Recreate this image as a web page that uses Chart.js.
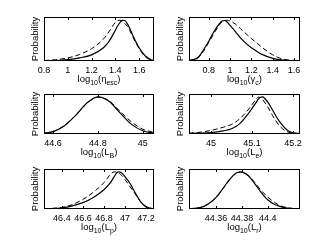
<!DOCTYPE html>
<html>
<head>
<meta charset="utf-8">
<script src="https://cdn.jsdelivr.net/npm/chart.js@4.4.1/dist/chart.umd.min.js"></script>
<style>
  html, body { margin: 0; padding: 0; background: #fff; }
  body { width: 332px; height: 250px; position: relative; overflow: hidden; }
  canvas { position: absolute; }
</style>
</head>
<body>
<canvas id="c1"></canvas>
<canvas id="c2"></canvas>
<canvas id="c3"></canvas>
<canvas id="c4"></canvas>
<canvas id="c5"></canvas>
<canvas id="c6"></canvas>
<script>
// log10(eta_esc)
const etaX      = [0.8, 0.9, 1.0, 1.1, 1.2, 1.3, 1.35, 1.4, 1.42, 1.44, 1.46, 1.48, 1.5, 1.52, 1.55, 1.6, 1.65, 1.7, 1.725];
const etaSolid  = [0.005, 0.01, 0.03, 0.07, 0.14, 0.3, 0.46, 0.7, 0.8, 0.88, 0.925, 0.92, 0.85, 0.75, 0.56, 0.3, 0.12, 0.03, 0.01];
const etaDashed = [0.01, 0.03, 0.07, 0.15, 0.28, 0.5, 0.68, 0.88, 0.92, 0.925, 0.9, 0.85, 0.79, 0.7, 0.53, 0.28, 0.1, 0.02, 0.01];
const etaTicks  = [0.8, 1, 1.2, 1.4, 1.6];

// log10(gamma_c)
const gamX      = [0.615, 0.65, 0.7, 0.75, 0.8, 0.85, 0.9, 0.925, 0.95, 0.975, 1.0, 1.05, 1.1, 1.15, 1.2, 1.25, 1.3, 1.4, 1.5, 1.656];
const gamSolid  = [0.01, 0.03, 0.08, 0.25, 0.45, 0.67, 0.85, 0.91, 0.92, 0.88, 0.81, 0.67, 0.52, 0.4, 0.3, 0.22, 0.15, 0.06, 0.02, 0.005];
const gamDashed = [0.01, 0.03, 0.08, 0.22, 0.42, 0.63, 0.82, 0.89, 0.92, 0.925, 0.91, 0.84, 0.73, 0.62, 0.51, 0.41, 0.31, 0.14, 0.04, 0.005];
const gamTicks  = [0.8, 1, 1.2, 1.4, 1.6];

// log10(L_B)
const lbX      = [44.56, 44.6, 44.65, 44.7, 44.75, 44.8, 44.85, 44.9, 44.95, 45.0, 45.05];
const lbSolid  = [0.02, 0.06, 0.2, 0.46, 0.77, 0.93, 0.82, 0.52, 0.24, 0.08, 0.02];
const lbDashed = [0.02, 0.06, 0.21, 0.46, 0.76, 0.92, 0.83, 0.56, 0.3, 0.12, 0.04];
const lbTicks  = [44.6, 44.8, 45];

// log10(L_e)
const leX      = [44.946, 44.97, 45.0, 45.03, 45.05, 45.07, 45.09, 45.11, 45.115, 45.12, 45.125, 45.13, 45.14, 45.15, 45.16, 45.17, 45.18, 45.19, 45.2, 45.217];
const leSolid  = [0.01, 0.02, 0.035, 0.08, 0.13, 0.26, 0.5, 0.79, 0.87, 0.915, 0.93, 0.9, 0.77, 0.6, 0.42, 0.27, 0.15, 0.07, 0.03, 0.01];
const leDashed = [0.02, 0.04, 0.09, 0.17, 0.24, 0.38, 0.6, 0.87, 0.92, 0.915, 0.87, 0.8, 0.65, 0.46, 0.3, 0.17, 0.09, 0.04, 0.02, 0.005];
const leTicks  = [45, 45.1, 45.2];

// log10(L_p)
const lpX      = [46.23, 46.3, 46.4, 46.5, 46.6, 46.7, 46.8, 46.85, 46.875, 46.9, 46.92, 46.94, 46.96, 46.98, 47.0, 47.05, 47.1, 47.15, 47.2, 47.276];
const lpSolid  = [0.005, 0.01, 0.03, 0.08, 0.16, 0.29, 0.48, 0.62, 0.71, 0.82, 0.9, 0.93, 0.92, 0.87, 0.81, 0.63, 0.39, 0.18, 0.06, 0.005];
const lpDashed = [0.005, 0.015, 0.04, 0.11, 0.24, 0.42, 0.66, 0.83, 0.9, 0.93, 0.92, 0.9, 0.86, 0.81, 0.74, 0.55, 0.37, 0.17, 0.05, 0.005];
const lpTicks  = [46.4, 46.6, 46.8, 47, 47.2];

// log10(L_r)
const lrX      = [44.339, 44.345, 44.35, 44.355, 44.36, 44.365, 44.37, 44.375, 44.379, 44.385, 44.39, 44.395, 44.4, 44.405, 44.41, 44.415, 44.42, 44.425];
const lrSolid  = [0.01, 0.02, 0.06, 0.15, 0.29, 0.5, 0.72, 0.89, 0.93, 0.83, 0.63, 0.41, 0.23, 0.12, 0.06, 0.02, 0.006, 0.002];
const lrDashed = [0.01, 0.02, 0.06, 0.15, 0.28, 0.49, 0.71, 0.88, 0.92, 0.84, 0.66, 0.46, 0.3, 0.17, 0.08, 0.035, 0.012, 0.004];
const lrTicks  = [44.36, 44.38, 44.4];

const FONT = '"Liberation Sans", Arial, Helvetica, sans-serif';

// draws "log10(...)" with subscripts centred under the axis
function drawRich(ctx, segs, cx, y) {
  const fontFor = s => (s[1] ? '7px ' : '9.5px ') + FONT;
  let total = 0;
  segs.forEach(s => { ctx.font = fontFor(s); total += ctx.measureText(s[0]).width; });
  let x = cx - total / 2;
  ctx.fillStyle = '#000';
  ctx.textBaseline = 'alphabetic';
  ctx.textAlign = 'left';
  segs.forEach(s => {
    ctx.font = fontFor(s);
    ctx.fillText(s[0], x, y + (s[1] ? 2.5 : 0));
    x += ctx.measureText(s[0]).width;
  });
}

const boxPlugin = {
  id: 'box',
  afterDraw(chart, args, opts) {
    const { ctx, chartArea: a } = chart;
    const xs = chart.scales.x;
    ctx.save();
    ctx.strokeStyle = '#000';
    ctx.lineWidth = 1;
    const l = Math.round(a.left) + 0.5, t = Math.round(a.top) + 0.5;
    const r = Math.round(a.right) - 0.5, b = Math.round(a.bottom) - 0.5;
    ctx.strokeRect(l, t, r - l, b - t);
    ctx.beginPath();
    xs.ticks.forEach(tk => {
      const px = Math.round(xs.getPixelForValue(tk.value)) + 0.5;
      ctx.moveTo(px, b); ctx.lineTo(px, b - 2.5);
      ctx.moveTo(px, t); ctx.lineTo(px, t + 2.5);
    });
    ctx.stroke();
    drawRich(ctx, opts.title, (a.left + a.right) / 2, a.bottom + 21);
    ctx.restore();
  }
};

function sub(name) { return [['log', 0], ['10', 1], ['(' + name[0], 0], [name[1], 1], [')', 0]]; }

const panels = [
  { id: 'c1', left: 0,   top: 0,   w: 166, h: 88, pad: { left: 30, right: 12, top: 17, bottom: 5 },
    xmin: 0.8, xmax: 1.725, xs: etaX, solid: etaSolid, dashed: etaDashed, ticks: etaTicks, title: sub(['η', 'esc']) },
  { id: 'c2', left: 166, top: 0,   w: 166, h: 88, pad: { left: 9, right: 32, top: 17, bottom: 5 },
    xmin: 0.615, xmax: 1.656, xs: gamX, solid: gamSolid, dashed: gamDashed, ticks: gamTicks, title: sub(['γ', 'c']) },
  { id: 'c3', left: 0,   top: 88,  w: 166, h: 76, pad: { left: 30, right: 12, top: 6, bottom: 8 },
    xmin: 44.56, xmax: 45.05, xs: lbX, solid: lbSolid, dashed: lbDashed, ticks: lbTicks, title: sub(['L', 'B']) },
  { id: 'c4', left: 166, top: 88,  w: 166, h: 76, pad: { left: 9, right: 32, top: 6, bottom: 8 },
    xmin: 44.946, xmax: 45.217, xs: leX, solid: leSolid, dashed: leDashed, ticks: leTicks, title: sub(['L', 'e']) },
  { id: 'c5', left: 0,   top: 164, w: 166, h: 86, pad: { left: 30, right: 12, top: 5, bottom: 19 },
    xmin: 46.23, xmax: 47.276, xs: lpX, solid: lpSolid, dashed: lpDashed, ticks: lpTicks, title: sub(['L', 'p']) },
  { id: 'c6', left: 166, top: 164, w: 166, h: 86, pad: { left: 9, right: 32, top: 5, bottom: 19 },
    xmin: 44.339, xmax: 44.425, xs: lrX, solid: lrSolid, dashed: lrDashed, ticks: lrTicks, title: sub(['L', 'r']) }
];

panels.forEach(p => {
  const cv = document.getElementById(p.id);
  cv.width = p.w; cv.height = p.h;
  cv.style.left = p.left + 'px'; cv.style.top = p.top + 'px';
  cv.style.width = p.w + 'px'; cv.style.height = p.h + 'px';

  new Chart(cv, {
    type: 'line',
    data: {
      datasets: [
        {
          data: p.xs.map((x, i) => ({ x: x, y: p.solid[i] })),
          borderColor: '#000', borderWidth: 1.2, pointRadius: 0,
          cubicInterpolationMode: 'monotone', fill: false
        },
        {
          data: p.xs.map((x, i) => ({ x: x, y: p.dashed[i] })),
          borderColor: '#000', borderWidth: 1, borderDash: [5, 3], pointRadius: 0,
          cubicInterpolationMode: 'monotone', fill: false
        }
      ]
    },
    options: {
      responsive: false,
      animation: false,
      events: [],
      layout: { padding: p.pad },
      plugins: {
        legend: { display: false },
        tooltip: { enabled: false },
        box: { title: p.title }
      },
      scales: {
        x: {
          type: 'linear', min: p.xmin, max: p.xmax,
          afterBuildTicks: s => { s.ticks = p.ticks.map(v => ({ value: v })); },
          afterFit: s => { s.height = 22; },
          grid: { display: false, drawTicks: false },
          border: { display: false },
          ticks: {
            padding: 4, color: '#000', maxRotation: 0, autoSkip: false,
            font: { family: FONT, size: 9 },
            callback: v => String(+v.toFixed(2))
          }
        },
        y: {
          min: 0, max: 1,
          afterFit: s => { s.width = 14; },
          grid: { display: false, drawTicks: false },
          border: { display: false },
          ticks: { display: false },
          title: { display: true, text: 'Probability', color: '#000', padding: 0, font: { family: FONT, size: 9.5 } }
        }
      }
    },
    plugins: [boxPlugin]
  });
});
</script>
</body>
</html>
